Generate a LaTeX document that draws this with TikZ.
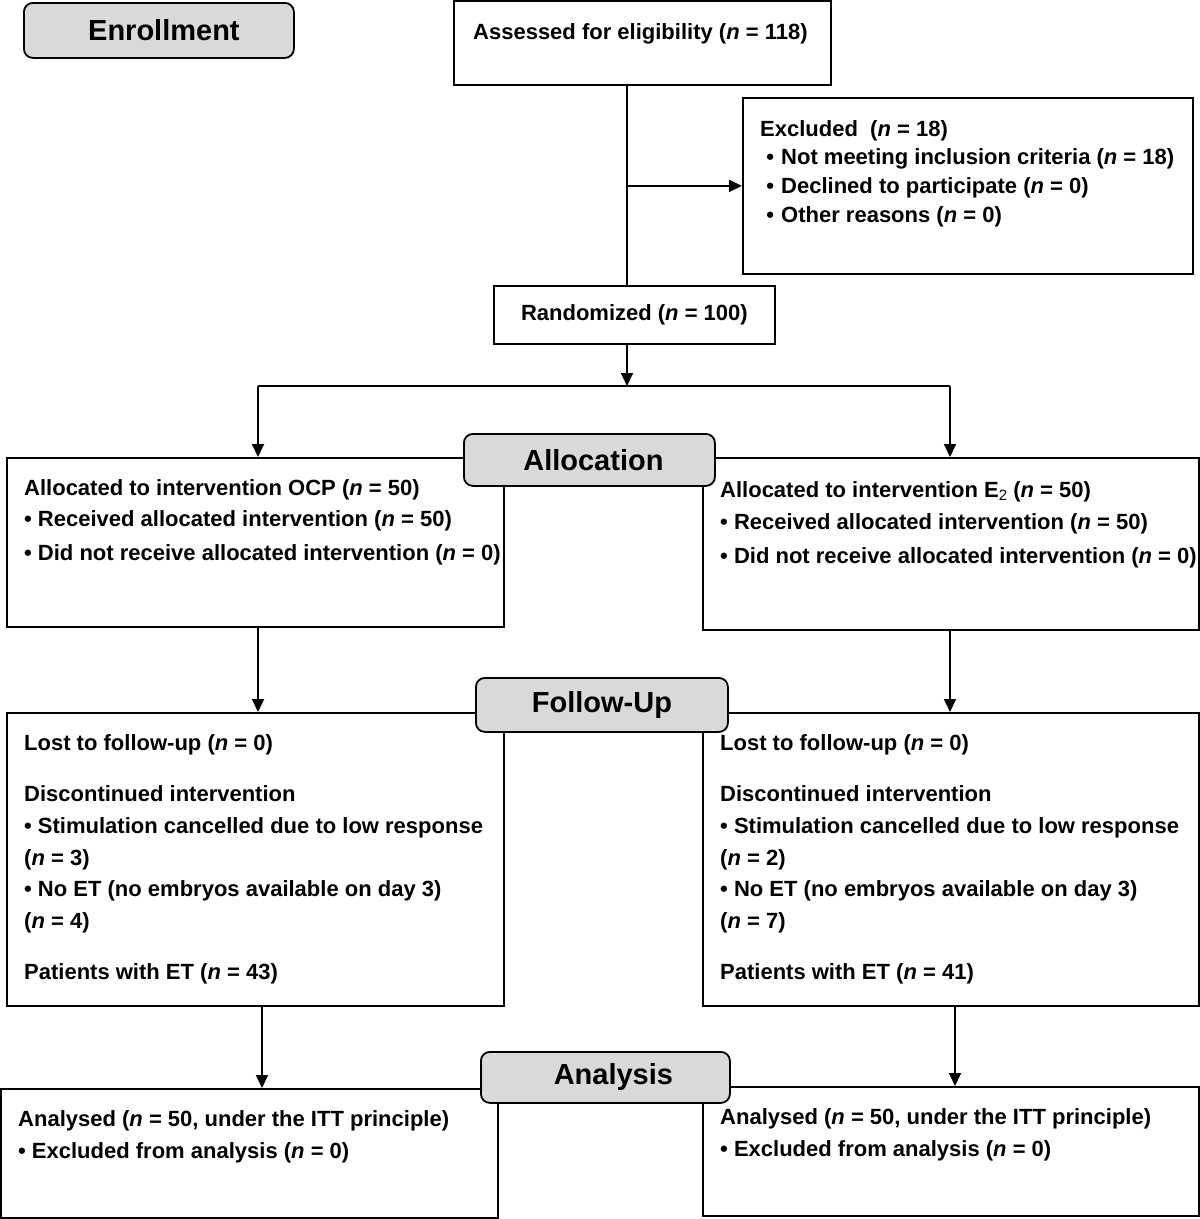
\documentclass[tikz,border=0pt]{standalone}
\usepackage{fontspec}
\setmainfont{Liberation Sans}
\usetikzlibrary{arrows.meta,calc}
\newcommand{\nn}{\textit{n}}
\tikzset{
  box/.style={draw=black, line width=1.8pt, anchor=north west, inner sep=0pt, fill=white},
  hdr/.style={draw=black, line width=1.8pt, fill=gray!30, rounded corners=9pt, anchor=north west, inner sep=0pt, font=\bfseries\fontsize{29}{32}\selectfont},
  txt/.style={anchor=base west, inner sep=0pt, font=\bfseries\fontsize{22}{32}\selectfont},
  conn/.style={line width=1.8pt},
  arr/.style={line width=1.8pt, -{Triangle[length=13pt,width=12pt]}}
}
\begin{document}
\begin{tikzpicture}[x=1pt,y=-1pt]
\useasboundingbox (0,0) rectangle (1200,1219);
% boxes
\node[box, minimum width=377pt, minimum height=84pt] (assess) at (453,0) {};
\node[box, minimum width=450pt, minimum height=176pt] (excl) at (742,97) {};
\node[box, minimum width=281pt, minimum height=58pt, font=\bfseries\fontsize{22}{32}\selectfont] (rand) at (493,285) {Randomized (\nn{} = 100)};
\node[box, minimum width=497pt, minimum height=169pt] (lalloc) at (6,457) {};
\node[box, minimum width=496pt, minimum height=172pt] (ralloc) at (702,457) {};
\node[box, minimum width=497pt, minimum height=293pt] (lfu) at (6,712) {};
\node[box, minimum width=496pt, minimum height=293pt] (rfu) at (702,712) {};
\node[box, minimum width=497pt, minimum height=129pt] (lan) at (0,1088) {};
\node[box, minimum width=496pt, minimum height=129pt] (ran) at (702,1086) {};
% coordinates
\coordinate (spine) at (627,0);
\coordinate (split) at (627,386);
\coordinate (lsplit) at (258,386);
\coordinate (rsplit) at (950,386);
\coordinate (lfux) at (258,0);
\coordinate (rfux) at (950,0);
\coordinate (lanx) at (262,0);
\coordinate (ranx) at (955,0);
% connectors
\draw[conn] (spine |- assess.south) -- (spine |- rand.north);
\draw[arr] (spine |- excl.west) -- (excl.west);
\draw[arr] (spine |- rand.south) -- (split);
\draw[conn] (lsplit) -- (rsplit);
\draw[arr] (lsplit) -- (lsplit |- lalloc.north);
\draw[arr] (rsplit) -- (rsplit |- ralloc.north);
\draw[arr] (lfux |- lalloc.south) -- (lfux |- lfu.north);
\draw[arr] (rfux |- ralloc.south) -- (rfux |- rfu.north);
\draw[arr] (lanx |- lfu.south) -- (lanx |- lan.north);
\draw[arr] (ranx |- rfu.south) -- (ranx |- ran.north);
% texts
\node[txt] (t1) at (473,39) {Assessed for eligibility (\nn{} = 118)};
\node[txt] (t2) at (760,136) {Excluded\ \ (\nn{} = 18)};
\node[txt] (t3) at (760,164) {\makebox[21pt][l]{\ •}Not meeting inclusion criteria (\nn{} = 18)};
\node[txt] (t4) at (760,193) {\makebox[21pt][l]{\ •}Declined to participate (\nn{} = 0)};
\node[txt] (t5) at (760,222) {\makebox[21pt][l]{\ •}Other reasons (\nn{} = 0)};
% allocation
\node[txt] (la1) at (24,495) {Allocated to intervention OCP (\nn{} = 50)};
\node[txt] (la2) at (24,526) {• Received allocated intervention (\nn{} = 50)};
\node[txt] (la3) at (24,560) {• Did not receive allocated intervention (\nn{} = 0)};
\node[txt] (ra1) at (720,497) {Allocated to intervention E{\mdseries\fontsize{15}{15}\selectfont\raisebox{-3pt}{2}} (\nn{} = 50)};
\node[txt] (ra2) at (720,529) {• Received allocated intervention (\nn{} = 50)};
\node[txt] (ra3) at (720,563) {• Did not receive allocated intervention (\nn{} = 0)};
% follow-up
\node[txt] (lf1) at (24,750) {Lost to follow-up (\nn{} = 0)};
\node[txt] (lf2) at (24,801) {Discontinued intervention};
\node[txt] (lf3) at (24,833) {• Stimulation cancelled due to low response};
\node[txt] (lf4) at (24,865) {(\nn{} = 3)};
\node[txt] (lf5) at (24,896) {• No ET (no embryos available on day 3)};
\node[txt] (lf6) at (24,928) {(\nn{} = 4)};
\node[txt] (lf7) at (24,979) {Patients with ET (\nn{} = 43)};
\node[txt] (rf1) at (720,750) {Lost to follow-up (\nn{} = 0)};
\node[txt] (rf2) at (720,801) {Discontinued intervention};
\node[txt] (rf3) at (720,833) {• Stimulation cancelled due to low response};
\node[txt] (rf4) at (720,865) {(\nn{} = 2)};
\node[txt] (rf5) at (720,896) {• No ET (no embryos available on day 3)};
\node[txt] (rf6) at (720,928) {(\nn{} = 7)};
\node[txt] (rf7) at (720,979) {Patients with ET (\nn{} = 41)};
% analysis
\node[txt] (ln1) at (18,1126) {Analysed (\nn{} = 50, under the ITT principle)};
\node[txt] (ln2) at (18,1158) {• Excluded from analysis (\nn{} = 0)};
\node[txt] (rn1) at (720,1124) {Analysed (\nn{} = 50, under the ITT principle)};
\node[txt] (rn2) at (720,1156) {• Excluded from analysis (\nn{} = 0)};
% headers
\node[hdr, minimum width=270pt, minimum height=55pt] (enroll) at (23,2) {\hspace{10pt}Enrollment};
\node[hdr, minimum width=251pt, minimum height=52pt] (alloc) at (463,433) {\hspace{8pt}Allocation};
\node[hdr, minimum width=252pt, minimum height=54pt] (fu) at (475,677) {\hspace{0pt}Follow-Up};
\node[hdr, minimum width=249pt, minimum height=51pt] (anal) at (480,1051) {\hspace{16pt}Analysis};
\end{tikzpicture}
\end{document}
